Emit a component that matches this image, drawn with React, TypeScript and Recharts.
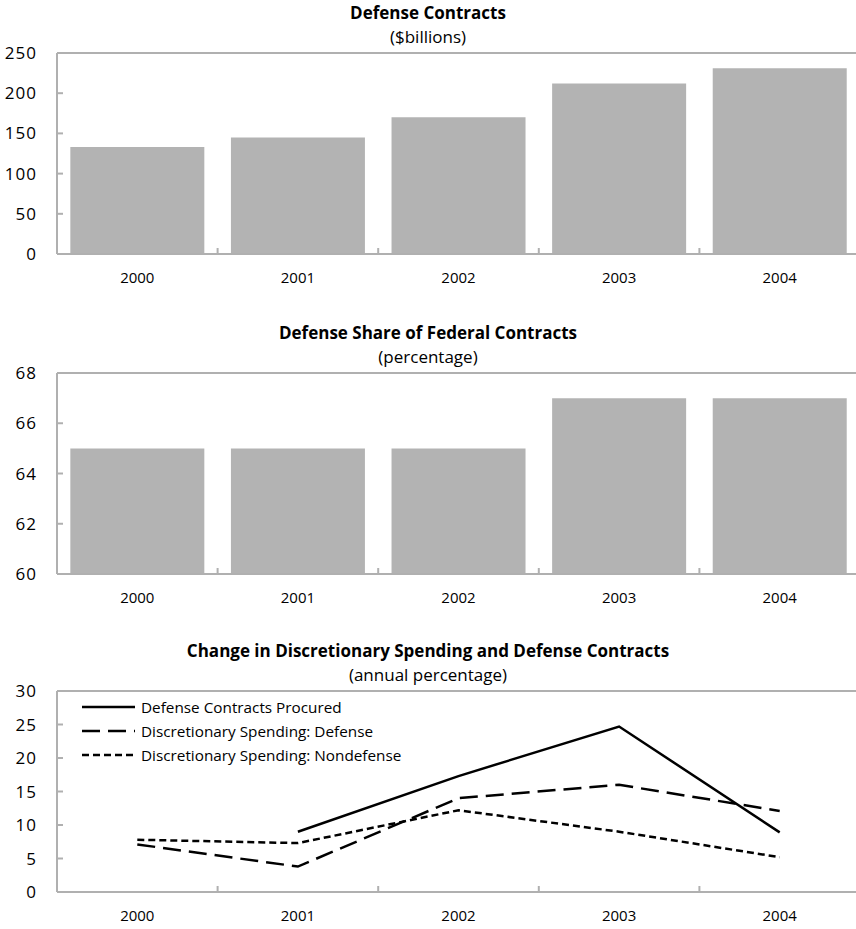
import React from "react";
import { BarChart, Bar, LineChart, Line, XAxis, YAxis, ReferenceLine, Legend } from "recharts";

const years = ["2000", "2001", "2002", "2003", "2004"];
const contractsBillions = [133, 145, 170, 212, 231];
const defenseSharePct = [65, 65, 65, 67, 67];
const contractsProcured = [null, 9.0, 17.3, 24.7, 8.9];
const discretionaryDefense = [7.1, 3.8, 14.0, 16.0, 12.1];
const discretionaryNondefense = [7.8, 7.3, 12.2, 9.0, 5.2];

const contractsTicks = [0, 50, 100, 150, 200, 250];
const shareTicks = [60, 62, 64, 66, 68];
const changeTicks = [0, 5, 10, 15, 20, 25, 30];

const FONT = '"Open Sans", sans-serif';
const AXIS = "#b0b0b0";
const BAR = "#b3b3b3";

const contractsData = years.map((y, i) => ({ year: y, value: contractsBillions[i] }));
const shareData = years.map((y, i) => ({ year: y, value: defenseSharePct[i] }));
const changeData = years.map((y, i) => ({
  year: y,
  procured: contractsProcured[i],
  defense: discretionaryDefense[i],
  nondefense: discretionaryNondefense[i],
}));

const seriesInfo = [
  { key: "procured", name: "Defense Contracts Procured", dash: undefined },
  { key: "defense", name: "Discretionary Spending: Defense", dash: "18 8" },
  { key: "nondefense", name: "Discretionary Spending: Nondefense", dash: "7 4" },
];

// category ticks: label in the middle, small tick mark at the band boundary
const CategoryTick = (props: any) => {
  const { x, y, payload, index, width, visibleTicksCount } = props;
  const count = visibleTicksCount || 5;
  const half = (width || 803) / count / 2;
  return (
    <g>
      {index < count - 1 && (
        <line x1={x + half} x2={x + half} y1={y} y2={y - 6} stroke={AXIS} strokeWidth={2} />
      )}
      <text x={x} y={y + 24} dy="0.35em" textAnchor="middle" fill="#000" fontSize={15} fontFamily={FONT}>
        {payload.value}
      </text>
    </g>
  );
};

const chartMargin = { top: 53, right: 4, bottom: 0, left: 0 };
const W = 864;
const H = 294;

function Panel({ top, title, subtitle, children }: any) {
  return (
    <div style={{ position: "absolute", left: 0, top, width: 856, height: H, overflow: "hidden" }}>
      <div
        style={{
          position: "absolute",
          top: 1,
          left: 0,
          width: 856,
          textAlign: "center",
          fontWeight: 700,
          fontSize: 17,
          lineHeight: "24px",
        }}
      >
        {title}
      </div>
      <div
        style={{
          position: "absolute",
          top: 25,
          left: 0,
          width: 856,
          textAlign: "center",
          fontSize: 17,
          lineHeight: "24px",
        }}
      >
        {subtitle}
      </div>
      <div style={{ position: "absolute", left: 0, top: 0 }}>{children}</div>
    </div>
  );
}

const yTick = { fill: "#000", fontSize: 17, fontFamily: FONT, letterSpacing: 1 };

function LegendBox() {
  return (
    <div style={{ fontFamily: FONT, fontSize: 15.3 }}>
      {seriesInfo.map((s) => (
        <div key={s.key} style={{ display: "flex", alignItems: "center", height: 24 }}>
          <svg width={53} height={24} style={{ marginRight: 6 }}>
            <line x1={0} x2={53} y1={12} y2={12} stroke="#000" strokeWidth={2.5} strokeDasharray={s.dash} />
          </svg>
          <span>{s.name}</span>
        </div>
      ))}
    </div>
  );
}

const xAxisProps = {
  dataKey: "year",
  height: 40,
  tickLine: false,
  tickSize: 0,
  tickMargin: 0,
  axisLine: { stroke: AXIS, strokeWidth: 2 },
  interval: 0,
};

const yAxisProps = {
  width: 57,
  tickSize: -6,
  tickMargin: 26,
  tickLine: { stroke: AXIS, strokeWidth: 2 },
  axisLine: { stroke: AXIS, strokeWidth: 2 },
  tick: yTick,
};

export default function App() {
  return (
    <div
      style={{
        position: "absolute",
        left: 0,
        top: 0,
        width: 856,
        height: 929,
        background: "#fff",
        fontFamily: FONT,
        color: "#000",
      }}
    >
      <Panel top={0} title="Defense Contracts" subtitle="($billions)">
        <BarChart width={W} height={H} data={contractsData} margin={chartMargin} barCategoryGap="8.3%">
          <XAxis {...xAxisProps} tick={<CategoryTick />} />
          <YAxis {...yAxisProps} domain={[0, 250]} ticks={contractsTicks} />
          <ReferenceLine y={250} stroke={AXIS} strokeWidth={2} />
          <Bar dataKey="value" fill={BAR} isAnimationActive={false} />
        </BarChart>
      </Panel>

      <Panel top={320} title="Defense Share of Federal Contracts" subtitle="(percentage)">
        <BarChart width={W} height={H} data={shareData} margin={chartMargin} barCategoryGap="8.3%">
          <XAxis {...xAxisProps} tick={<CategoryTick />} />
          <YAxis {...yAxisProps} domain={[60, 68]} ticks={shareTicks} allowDataOverflow />
          <ReferenceLine y={68} stroke={AXIS} strokeWidth={2} />
          <Bar dataKey="value" fill={BAR} isAnimationActive={false} />
        </BarChart>
      </Panel>

      <Panel
        top={638}
        title="Change in Discretionary Spending and Defense Contracts"
        subtitle="(annual percentage)"
      >
        <LineChart width={W} height={H} data={changeData} margin={chartMargin}>
          <XAxis {...xAxisProps} scale="band" tick={<CategoryTick />} />
          <YAxis {...yAxisProps} domain={[0, 30]} ticks={changeTicks} />
          <ReferenceLine y={30} stroke={AXIS} strokeWidth={2} />
          <Legend
            layout="vertical"
            align="center"
            verticalAlign="middle"
            content={<LegendBox />}
            wrapperStyle={{ left: 82, top: 57, width: 400 }}
          />
          {seriesInfo.map((s) => (
            <Line
              key={s.key}
              dataKey={s.key}
              name={s.name}
              stroke="#000"
              strokeWidth={2.5}
              strokeDasharray={s.dash}
              dot={false}
              activeDot={false}
              isAnimationActive={false}
            />
          ))}
        </LineChart>
      </Panel>
    </div>
  );
}
